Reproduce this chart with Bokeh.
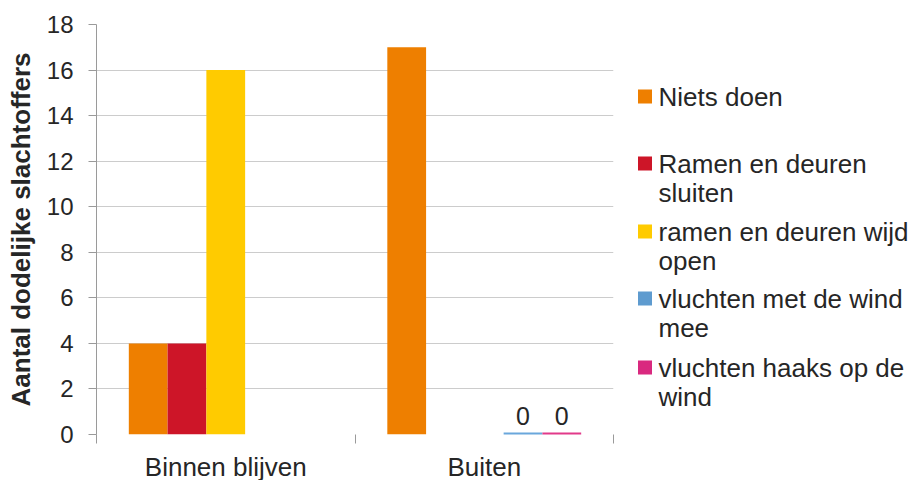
from bokeh.plotting import figure
from bokeh.models import Range1d, FixedTicker, ColumnDataSource
from bokeh.layouts import row
from bokeh.embed import file_html
from bokeh.resources import INLINE
from bokeh.core.properties import value

# --- data -------------------------------------------------------------
categories = ["Binnen blijven", "Buiten"]
series_names = [
    "Niets doen",
    "Ramen en deuren sluiten",
    "ramen en deuren wijd open",
    "vluchten met de wind mee",
    "vluchten haaks op de wind",
]
legend_lines = [
    ["Niets doen"],
    ["Ramen en deuren", "sluiten"],
    ["ramen en deuren wijd", "open"],
    ["vluchten met de wind", "mee"],
    ["vluchten haaks op de", "wind"],
]
niets_doen = [4, 17]
ramen_sluiten = [4, None]
ramen_open = [16, None]
vluchten_mee = [None, 0]
vluchten_haaks = [None, 0]
series_values = [niets_doen, ramen_sluiten, ramen_open, vluchten_mee, vluchten_haaks]
labelled = [False, False, False, True, True]
y_ticks = [0, 2, 4, 6, 8, 10, 12, 14, 16, 18]
y_title = "Aantal dodelijke slachtoffers"

colors = ["#EE7F00", "#CD1528", "#FFCB00", "#6AA7DC", "#E23A8A"]
legend_colors = ["#EE7F00", "#CD1528", "#FFCB00", "#5E9BCF", "#D9297F"]

FONT = "Liberation Sans"
TEXT_COLOR = "#262626"
AXIS_GREY = "#9a9a9a"

# plot frame geometry (pixels)
FRAME_TOP = 24
FRAME_H = 410
FRAME_LEFT = 96
FRAME_W = 517
RIGHT_GAP = 17

# --- chart ------------------------------------------------------------
p = figure(
    frame_width=FRAME_W, frame_height=FRAME_H,
    x_range=Range1d(0, len(categories)), y_range=Range1d(0, 18),
    output_backend="svg", toolbar_location=None,
    min_border_left=FRAME_LEFT, min_border_top=FRAME_TOP,
    min_border_bottom=40, min_border_right=RIGHT_GAP,
)
p.outline_line_color = None
p.background_fill_color = "white"
p.border_fill_color = "white"

centers = [i + 0.5 for i in range(len(categories))]
bar_w = 0.15
n = len(series_names)

for i, (vals, col) in enumerate(zip(series_values, colors)):
    off = (i - (n - 1) / 2) * bar_w
    xs = [c + off for c in centers]
    tops = [float("nan") if v is None else v for v in vals]
    src = ColumnDataSource(dict(x=xs, top=tops))
    p.vbar(x="x", top="top", bottom=0, width=bar_w, source=src,
           fill_color=col, line_color=None)
    # zero values are shown as a thin stroke on the baseline
    zx0 = [x - bar_w / 2 for x, v in zip(xs, vals) if v == 0]
    zx1 = [x + bar_w / 2 for x, v in zip(xs, vals) if v == 0]
    zy = [v for v in vals if v == 0]
    if zy:
        p.segment(x0=zx0, y0=zy, x1=zx1, y1=zy, line_color=col, line_width=4)
    if labelled[i]:
        lx = [x for x, v in zip(xs, vals) if v is not None]
        ly = [v for v in vals if v is not None]
        p.text(x=lx, y=ly, text=[str(v) for v in ly],
               text_align="center", text_baseline="bottom", y_offset=-10,
               text_font=value(FONT), text_font_size="25px", text_color=TEXT_COLOR)

# x axis: labels at category centres, small ticks at category boundaries
xa = p.xaxis[0]
xa.ticker = FixedTicker(ticks=centers, minor_ticks=list(range(len(categories) + 1)))
xa.major_label_overrides = {c: name for c, name in zip(centers, categories)}
xa.major_tick_out = 0
xa.major_tick_in = 0
xa.major_tick_line_color = None
xa.minor_tick_out = 9
xa.minor_tick_in = 0
xa.minor_tick_line_color = AXIS_GREY
xa.axis_line_color = None
xa.major_label_standoff = 8
xa.major_label_text_font = FONT
xa.major_label_text_font_size = "26px"
xa.major_label_text_color = TEXT_COLOR

# y axis
ya = p.yaxis[0]
ya.ticker = FixedTicker(ticks=y_ticks)
ya.major_tick_out = 8
ya.major_tick_in = 0
ya.minor_tick_line_color = None
ya.major_tick_line_color = AXIS_GREY
ya.axis_line_color = AXIS_GREY
ya.major_label_standoff = 15
ya.major_label_text_font = FONT
ya.major_label_text_font_size = "24px"
ya.major_label_text_color = TEXT_COLOR
ya.axis_label = y_title
ya.axis_label_standoff = 8
ya.axis_label_text_font = FONT
ya.axis_label_text_font_size = "26px"
ya.axis_label_text_font_style = "bold"
ya.axis_label_text_color = TEXT_COLOR

p.xgrid.grid_line_color = None
p.ygrid.ticker = FixedTicker(ticks=y_ticks)
p.ygrid.grid_line_color = "#cccccc"
p.ygrid.grid_line_width = 1

# --- legend panel (data units = page pixels) ----------------------------
LEG_LEFT = FRAME_LEFT + FRAME_W + RIGHT_GAP
LEG_W = 921 - LEG_LEFT
lg = figure(
    frame_width=LEG_W, frame_height=FRAME_H,
    x_range=Range1d(LEG_LEFT, LEG_LEFT + LEG_W),
    y_range=Range1d(FRAME_TOP + FRAME_H, FRAME_TOP),
    output_backend="svg", toolbar_location=None,
    x_axis_location=None, y_axis_location=None,
    min_border_left=0, min_border_right=0,
    min_border_top=FRAME_TOP, min_border_bottom=40,
)
lg.outline_line_color = None
lg.xgrid.visible = False
lg.ygrid.visible = False

entry_y = [96, 163, 231, 298, 367]
line_gap = 29
lg.scatter(x=[644.5] * n, y=entry_y, marker="square", size=14,
           fill_color=legend_colors, line_color=None)
tx, ty, tt = [], [], []
for y0, lines in zip(entry_y, legend_lines):
    for k, line in enumerate(lines):
        tx.append(658)
        ty.append(y0 + k * line_gap)
        tt.append(line)
lg.text(x=tx, y=ty, text=tt, text_baseline="middle", text_align="left",
        text_font=value(FONT), text_font_size="26px", text_color=TEXT_COLOR)

layout = row(p, lg)
open("out.html", "w").write(file_html(layout, INLINE))
